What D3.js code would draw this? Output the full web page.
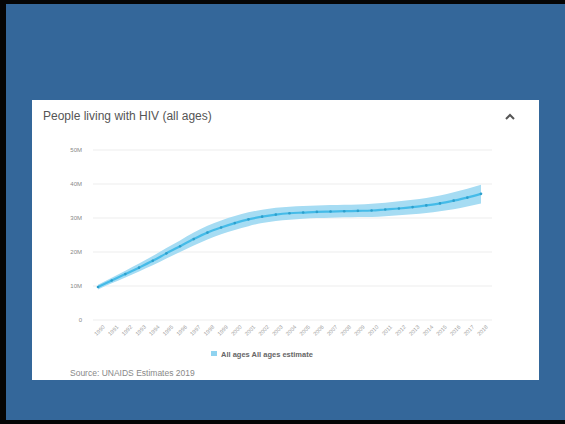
<!DOCTYPE html>
<html>
<head>
<meta charset="utf-8">
<script src="https://cdn.jsdelivr.net/npm/d3@7"></script>
<style>
  html, body { margin: 0; padding: 0; background: #000; }
  svg { display: block; }
</style>
</head>
<body>
<svg id="chart" width="565" height="424"></svg>
<script>
// People living with HIV (all ages), millions, with uncertainty bounds
const years = d3.range(1990, 2019);
const estimate = [9.7, 11.6, 13.5, 15.4, 17.4, 19.6, 21.7, 23.8, 25.7, 27.2, 28.5,
                  29.6, 30.4, 31.0, 31.4, 31.6, 31.8, 31.9, 32.0, 32.1, 32.2,
                  32.5, 32.8, 33.2, 33.7, 34.3, 35.1, 36.0, 37.1];
const lower = [9.0, 10.8, 12.5, 14.3, 16.1, 18.1, 20.0, 21.9, 23.7, 25.2, 26.5,
               27.6, 28.5, 29.1, 29.5, 29.8, 30.0, 30.1, 30.2, 30.3, 30.3,
               30.5, 30.8, 31.1, 31.5, 32.0, 32.6, 33.4, 34.3];
const upper = [10.4, 12.4, 14.5, 16.6, 18.8, 21.2, 23.4, 25.7, 27.7, 29.3, 30.6,
               31.7, 32.4, 33.0, 33.3, 33.5, 33.7, 33.8, 33.9, 34.0, 34.2,
               34.5, 34.9, 35.4, 35.9, 36.6, 37.6, 38.6, 39.8];
const yTicks = [0, 10, 20, 30, 40, 50];
const yTickLabels = ["0", "10M", "20M", "30M", "40M", "50M"];
const seriesName = "All ages All ages estimate";

const svg = d3.select("#chart");
const font = "Liberation Sans, Arial, sans-serif";

// slide frame and background
svg.append("rect").attr("x", 0).attr("y", 0).attr("width", 565).attr("height", 424).attr("fill", "#050505");
svg.append("rect").attr("x", 6).attr("y", 4).attr("width", 559).attr("height", 416).attr("fill", "#34679a");

// white card
svg.append("rect").attr("x", 32).attr("y", 100).attr("width", 507).attr("height", 280).attr("fill", "#ffffff");

svg.append("text").attr("x", 43).attr("y", 119.5)
  .attr("font-family", font).attr("font-size", 12)
  .attr("fill", "#555").text("People living with HIV (all ages)");

// collapse chevron
svg.append("path").attr("d", "M506,119 L510,115 L514,119")
  .attr("fill", "none").attr("stroke", "#555").attr("stroke-width", 2);

const x = d3.scalePoint().domain(years).range([98, 481]);
const y = d3.scaleLinear().domain([0, 50]).range([320, 150]);

// gridlines
svg.append("g").selectAll("line").data(yTicks).join("line")
  .attr("x1", 93).attr("x2", 492)
  .attr("y1", d => y(d)).attr("y2", d => y(d))
  .attr("stroke", "#ededed").attr("stroke-width", 1);

// y axis labels
const yAxis = d3.axisLeft(y).tickValues(yTicks).tickSize(0)
  .tickFormat((d, i) => yTickLabels[i]);
const gy = svg.append("g").attr("transform", "translate(85,0)").call(yAxis);
gy.select(".domain").remove();
gy.selectAll("text").attr("font-family", font)
  .attr("font-size", 6).attr("fill", "#888");

// x axis labels, rotated
const xAxis = d3.axisBottom(x).tickSize(0).tickFormat(d => String(d));
const gx = svg.append("g").attr("transform", "translate(0,323)").call(xAxis);
gx.select(".domain").remove();
gx.selectAll("text")
  .attr("font-family", font)
  .attr("font-size", 5.5).attr("fill", "#999")
  .attr("text-anchor", "end")
  .attr("transform", "rotate(-45)")
  .attr("dx", "0.3em").attr("dy", "0.9em");

// uncertainty band
const area = d3.area()
  .x((d, i) => x(years[i]))
  .y0((d, i) => y(lower[i]))
  .y1((d, i) => y(upper[i]))
  .curve(d3.curveMonotoneX);
svg.append("path").datum(estimate).attr("d", area)
  .attr("fill", "#a6dcf3");

// estimate line
const line = d3.line()
  .x((d, i) => x(years[i]))
  .y(d => y(d))
  .curve(d3.curveMonotoneX);
svg.append("path").datum(estimate).attr("d", line)
  .attr("fill", "none").attr("stroke", "#45bbe8").attr("stroke-width", 2.2);

// point markers
svg.append("g").selectAll("circle").data(estimate).join("circle")
  .attr("cx", (d, i) => x(years[i])).attr("cy", d => y(d))
  .attr("r", 1.3).attr("fill", "#2c9fcc");

// legend
svg.append("rect").attr("x", 211).attr("y", 351).attr("width", 6).attr("height", 5)
  .attr("fill", "#8fd3f0");
svg.append("text").attr("x", 221).attr("y", 356.5)
  .attr("font-family", font).attr("font-size", 7.5)
  .attr("font-weight", "bold").attr("fill", "#666").text(seriesName);

// source note
svg.append("text").attr("x", 70).attr("y", 376)
  .attr("font-family", font).attr("font-size", 8.5)
  .attr("fill", "#888").text("Source: UNAIDS Estimates 2019");
</script>
</body>
</html>
